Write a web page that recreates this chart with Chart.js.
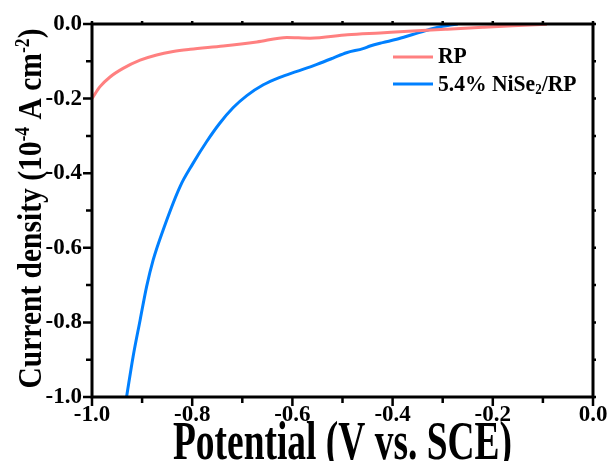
<!DOCTYPE html>
<html><head><meta charset="utf-8">
<script src="https://cdn.jsdelivr.net/npm/chart.js@4.4.1/dist/chart.umd.min.js"></script>
<style>html,body{margin:0;padding:0;background:#fff}canvas{display:block}</style>
</head><body>
<canvas id="c" width="615" height="461"></canvas>
<script>
// ---- data ----
const seriesNames = ['RP', '5.4% NiSe2/RP'];
const seriesColors = ['rgb(255,128,128)', 'rgb(0,128,255)'];
const rpPotential = [-1.0, -0.984, -0.964, -0.938, -0.904, -0.871, -0.838, -0.804, -0.738, -0.671, -0.611, -0.565, -0.49, -0.425, -0.36, -0.291, -0.22, -0.16, -0.092];
const rpCurrent   = [-0.2, -0.168, -0.142, -0.119, -0.097, -0.083, -0.074, -0.068, -0.059, -0.048, -0.036, -0.038, -0.029, -0.024, -0.019, -0.014, -0.009, -0.005, -0.001];
const niPotential = [-0.931, -0.918, -0.904, -0.891, -0.878, -0.858, -0.824, -0.799, -0.771, -0.745, -0.718, -0.691, -0.658, -0.625, -0.591, -0.551, -0.52, -0.492, -0.459, -0.445, -0.42, -0.392, -0.36, -0.325, -0.3, -0.285, -0.27];
const niCurrent   = [-1.0, -0.892, -0.794, -0.704, -0.633, -0.552, -0.435, -0.375, -0.315, -0.266, -0.224, -0.192, -0.163, -0.143, -0.127, -0.108, -0.092, -0.077, -0.066, -0.059, -0.050, -0.041, -0.028, -0.014, -0.006, -0.003, 0.0];
const xRange = [-1.0, 0.0];
const yRange = [-1.0, 0.0];
const tickStep = 0.1;
const xTitleRuns = [{t:'Potential (V vs. SCE)'}];
const yTitleRuns = [{t:'Current density (10'},{t:'-4',s:'sup'},{t:' A cm'},{t:'-2',s:'sup'},{t:')'}];
const legendRuns = [[{t:'RP'}],[{t:'5.4% NiSe'},{t:'2',s:'sub'},{t:'/RP'}]];

const FAMILY = '"Liberation Serif", "Times New Roman", serif';

function runFont(r, size){ return `bold ${r.s ? size*0.6 : size}px ${FAMILY}`; }
function measureRuns(ctx, runs, size){
  let w = 0;
  for (const r of runs){ ctx.font = runFont(r,size); w += ctx.measureText(r.t).width; }
  return w;
}
function drawRuns(ctx, runs, size, x0, y0){
  let x = x0;
  for (const r of runs){
    ctx.font = runFont(r,size);
    const dy = r.s === 'sup' ? -size*0.36 : (r.s === 'sub' ? size*0.14 : 0);
    ctx.fillText(r.t, x, y0 + dy);
    x += ctx.measureText(r.t).width;
  }
}
const isMajor = v => Math.abs(Math.round(v*10)) % 2 === 0;
const tickLabel = v => isMajor(v) ? (Math.round(v*10)/10).toFixed(1).replace('-0.0','0.0') : '';

const framePlugin = {
  id: 'frame',
  afterDatasetsDraw(chart){
    const {ctx, chartArea: ca, scales} = chart;
    ctx.save();
    ctx.strokeStyle = '#000';
    ctx.lineWidth = 3;
    ctx.strokeRect(ca.left, ca.top, ca.right - ca.left, ca.bottom - ca.top);
    ctx.lineWidth = 2.5;
    ctx.beginPath();
    for (const t of scales.x.ticks){
      const px = scales.x.getPixelForValue(t.value);
      const m = isMajor(t.value);
      ctx.moveTo(px, ca.bottom); ctx.lineTo(px, ca.bottom + (m ? 9 : 6));
      ctx.moveTo(px, ca.top); ctx.lineTo(px, ca.top - 3);
    }
    for (const t of scales.y.ticks){
      const py = scales.y.getPixelForValue(t.value);
      const m = isMajor(t.value);
      ctx.moveTo(ca.left, py); ctx.lineTo(ca.left - (m ? 9 : 6), py);
      ctx.moveTo(ca.right, py); ctx.lineTo(ca.right + 3, py);
    }
    ctx.stroke();
    ctx.restore();
  },
  afterDraw(chart){
    const {ctx, chartArea: ca, scales} = chart;
    ctx.save();
    ctx.fillStyle = '#000';
    // y tick labels, positioned by the y scale
    ctx.font = `bold 23px ${FAMILY}`;
    ctx.textAlign = 'right';
    ctx.textBaseline = 'middle';
    for (const t of scales.y.ticks){
      const s = tickLabel(t.value);
      if (s) ctx.fillText(s, ca.left - 10, scales.y.getPixelForValue(t.value));
    }
    ctx.textBaseline = 'alphabetic';
    ctx.textAlign = 'left';
    // x title (condensed bold serif)
    let size = 54;
    let w = measureRuns(ctx, xTitleRuns, size);
    ctx.save();
    ctx.translate((ca.left + ca.right)/2, 459);
    ctx.scale(339 / w, 1);
    drawRuns(ctx, xTitleRuns, size, -w/2, 0);
    ctx.restore();
    // y title
    size = 34;
    w = measureRuns(ctx, yTitleRuns, size);
    ctx.save();
    ctx.translate(41, (ca.top + ca.bottom)/2 - 2);
    ctx.rotate(-Math.PI/2);
    ctx.scale(360 / w, 1);
    drawRuns(ctx, yTitleRuns, size, -w/2, 0);
    ctx.restore();
    // legend
    const lx0 = 393, lx1 = 433, tx = 438;
    const rows = [{ly:57, by:63}, {ly:84, by:91}];
    chart.data.datasets.forEach((ds, i) => {
      ctx.strokeStyle = ds.borderColor;
      ctx.lineWidth = 3;
      ctx.beginPath();
      ctx.moveTo(lx0, rows[i].ly); ctx.lineTo(lx1, rows[i].ly);
      ctx.stroke();
      ctx.fillStyle = '#000';
      ctx.save();
      ctx.translate(tx, rows[i].by);
      ctx.scale(0.9, 1);
      drawRuns(ctx, legendRuns[i], 24, 0, 0);
      ctx.restore();
    });
    ctx.restore();
  }
};

const tickFont = {family: FAMILY, size: 23, weight: 'bold'};

new Chart(document.getElementById('c'), {
  type: 'scatter',
  data: {
    datasets: [
      { label: seriesNames[0], data: rpPotential.map((x,i)=>({x, y: rpCurrent[i]})),
        showLine: true, borderColor: seriesColors[0], backgroundColor: seriesColors[0],
        borderWidth: 3, pointRadius: 0, cubicInterpolationMode: 'monotone' },
      { label: seriesNames[1], data: niPotential.map((x,i)=>({x, y: niCurrent[i]})),
        showLine: true, borderColor: seriesColors[1], backgroundColor: seriesColors[1],
        borderWidth: 3, pointRadius: 0, cubicInterpolationMode: 'monotone' }
    ]
  },
  options: {
    responsive: false,
    animation: false,
    devicePixelRatio: 1,
    layout: { padding: { top: 24, right: 22, left: 0, bottom: 0 } },
    plugins: { legend: { display: false }, tooltip: { enabled: false } },
    scales: {
      x: {
        type: 'linear', min: xRange[0], max: xRange[1],
        grid: { display: false, drawTicks: false },
        border: { display: false },
        ticks: { stepSize: tickStep, autoSkip: false, maxRotation: 0, padding: 4,
                 color: '#000', font: tickFont, callback: tickLabel },
        afterFit(s){ s.height = 64; }
      },
      y: {
        type: 'linear', min: yRange[0], max: yRange[1],
        grid: { display: false, drawTicks: false },
        border: { display: false },
        ticks: { stepSize: tickStep, autoSkip: false, padding: 10, display: false,
                 color: '#000', font: tickFont, callback: tickLabel },
        afterFit(s){ s.width = 92; }
      }
    }
  },
  plugins: [framePlugin]
});
</script>
</body></html>
